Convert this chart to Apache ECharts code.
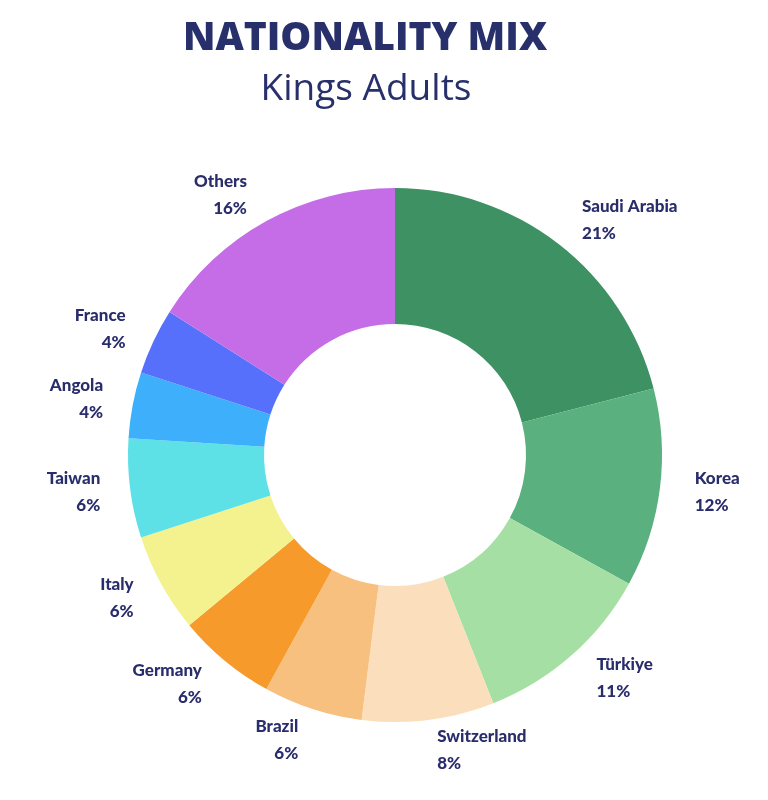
<!DOCTYPE html>
<html><head><meta charset="utf-8">
<script src="https://cdn.jsdelivr.net/npm/echarts@6/dist/echarts.min.js"></script>
<style>html,body{margin:0;background:#fff}#c{width:768px;height:800px}</style>
</head><body><div id="c"></div>
<script>
const categories=['Saudi Arabia','Korea','Türkiye','Switzerland','Brazil','Germany','Italy','Taiwan','Angola','France','Others'];
const values=[21,12,11,8,6,6,6,6,4,4,16];
const colors=['#3d9163','#5ab07e','#a6dfa3','#fbdfbd','#f8c07e','#f59a2b','#f3f28f','#5de0e6','#3eb0fb','#5670fc','#c46de6'];
const chart=echarts.init(document.getElementById('c'));
chart.setOption({
  title:[{text:'NATIONALITY MIX',left:360,textAlign:'center',top:14,
    textStyle:{fontFamily:'Open Sans',fontWeight:800,fontSize:39,color:'#27306b'}},
    {text:'Kings Adults',left:361,textAlign:'center',top:66,
    textStyle:{fontFamily:'Open Sans',fontWeight:400,fontSize:37,color:'#27306b'}}],
  series:[{type:'pie',center:[395,455],radius:[131,267],startAngle:90,clockwise:true,
    data:categories.map((n,i)=>({name:n,value:values[i],itemStyle:{color:colors[i]}})),
    label:{show:true,position:'outside',formatter:'{b}\n{c}%',fontFamily:'Lato',fontWeight:900,fontSize:17,lineHeight:27,color:'#2a2d6b',align:'center'},
    labelLine:{show:false,length:30,length2:0},
    emphasis:{disabled:true}}]
});
</script></body></html>
